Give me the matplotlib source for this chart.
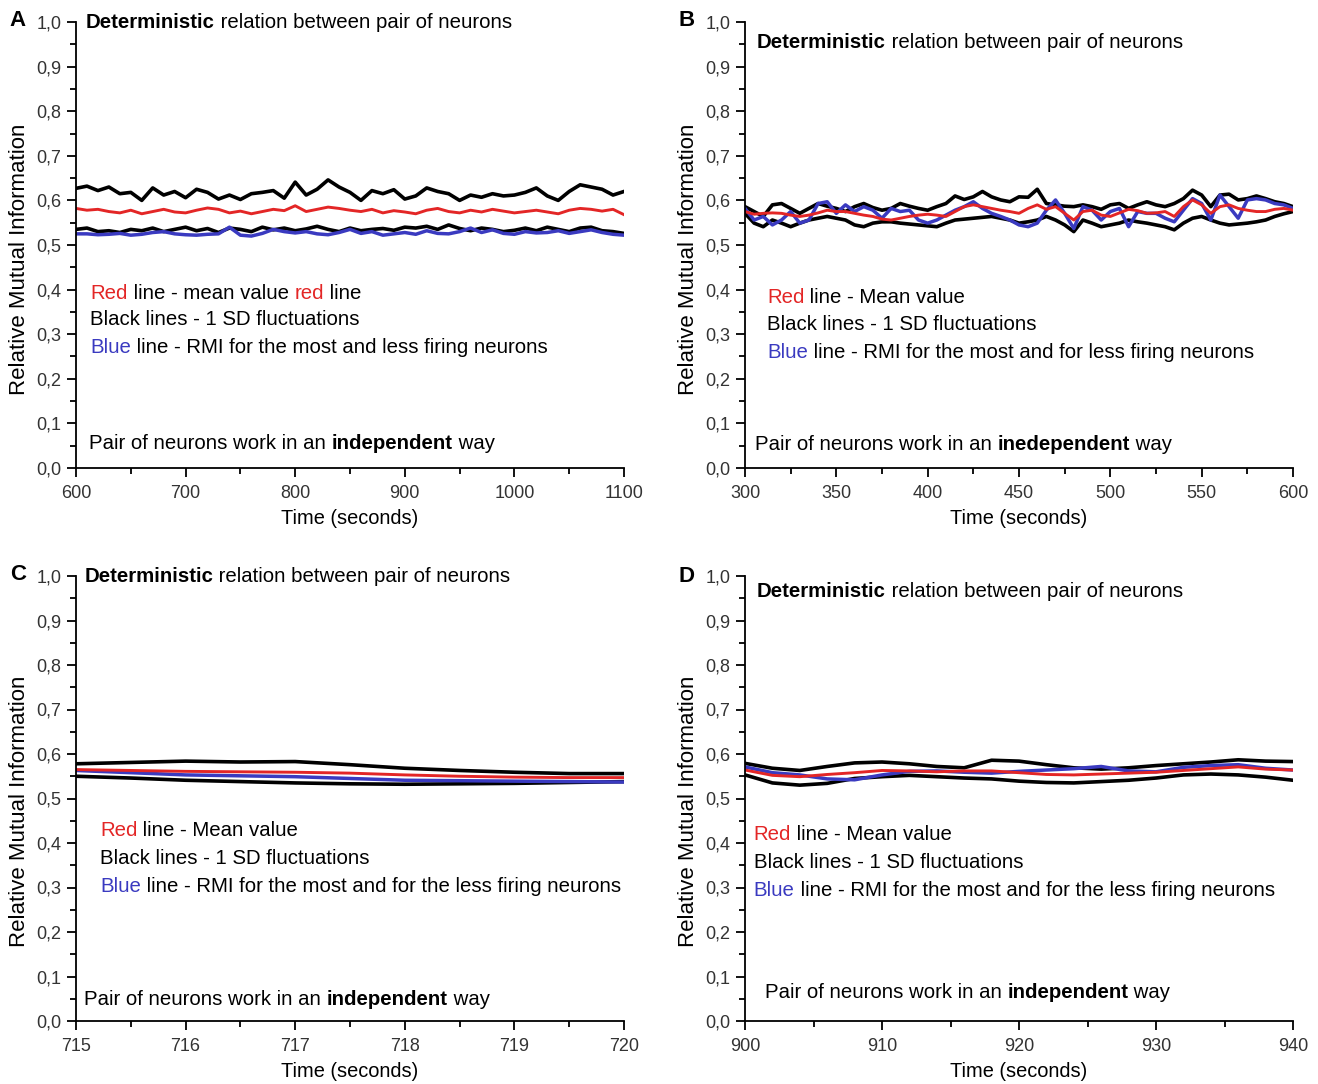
import numpy as np
import matplotlib
matplotlib.use("Agg")
import matplotlib.pyplot as plt
from matplotlib.ticker import MultipleLocator, FuncFormatter

plt.rcParams['font.family'] = ['Liberation Sans', 'DejaVu Sans']

RED = '#e32626'
BLUE = '#3a3ac0'

# ---- Panel A (600-1100 s, step 10 s)
t_a = np.arange(600, 1101, 10)
a_upper = [0.627, 0.632, 0.622, 0.630, 0.615, 0.618, 0.600, 0.628, 0.612, 0.620, 0.606, 0.625, 0.618,
           0.603, 0.612, 0.602, 0.615, 0.618, 0.622, 0.605, 0.641, 0.612, 0.625, 0.646, 0.630, 0.618,
           0.600, 0.622, 0.615, 0.624, 0.603, 0.610, 0.628, 0.620, 0.615, 0.600, 0.612, 0.607, 0.615,
           0.610, 0.612, 0.618, 0.628, 0.610, 0.600, 0.620, 0.635, 0.630, 0.625, 0.612, 0.620]
a_mean = [0.582, 0.578, 0.580, 0.575, 0.572, 0.578, 0.570, 0.575, 0.580, 0.574, 0.572, 0.578, 0.583,
          0.580, 0.572, 0.576, 0.570, 0.575, 0.580, 0.577, 0.588, 0.575, 0.580, 0.585, 0.582, 0.578,
          0.575, 0.580, 0.572, 0.577, 0.574, 0.570, 0.578, 0.582, 0.575, 0.572, 0.578, 0.574, 0.580,
          0.576, 0.572, 0.575, 0.578, 0.574, 0.570, 0.578, 0.582, 0.580, 0.576, 0.580, 0.568]
a_lower = [0.535, 0.538, 0.530, 0.532, 0.528, 0.535, 0.532, 0.538, 0.530, 0.535, 0.540, 0.532, 0.537,
           0.528, 0.538, 0.535, 0.530, 0.540, 0.534, 0.538, 0.532, 0.536, 0.542, 0.535, 0.530, 0.538,
           0.532, 0.535, 0.537, 0.533, 0.540, 0.538, 0.542, 0.535, 0.545, 0.537, 0.532, 0.538, 0.535,
           0.530, 0.533, 0.538, 0.532, 0.540, 0.535, 0.530, 0.538, 0.540, 0.532, 0.530, 0.526]
a_rmi = [0.525, 0.525, 0.523, 0.524, 0.526, 0.522, 0.524, 0.528, 0.530, 0.525, 0.523, 0.522, 0.524,
         0.525, 0.540, 0.522, 0.520, 0.526, 0.535, 0.530, 0.527, 0.530, 0.525, 0.523, 0.528, 0.535,
         0.526, 0.530, 0.522, 0.525, 0.528, 0.524, 0.532, 0.526, 0.525, 0.530, 0.538, 0.528, 0.534,
         0.526, 0.524, 0.530, 0.527, 0.528, 0.532, 0.526, 0.530, 0.534, 0.528, 0.524, 0.522]

# ---- Panel B (300-600 s, step 5 s)
t_b = np.arange(300, 601, 5)
b_upper = [0.586, 0.575, 0.564, 0.590, 0.593, 0.582, 0.571, 0.582, 0.593, 0.587, 0.582, 0.575, 0.586,
           0.593, 0.584, 0.578, 0.582, 0.593, 0.587, 0.582, 0.578, 0.586, 0.593, 0.610, 0.602, 0.608,
           0.620, 0.608, 0.601, 0.597, 0.608, 0.607, 0.625, 0.593, 0.590, 0.587, 0.586, 0.590, 0.586,
           0.580, 0.590, 0.593, 0.582, 0.590, 0.597, 0.590, 0.586, 0.593, 0.604, 0.623, 0.612, 0.586,
           0.612, 0.614, 0.601, 0.604, 0.610, 0.604, 0.597, 0.593, 0.586]
b_lower = [0.571, 0.549, 0.541, 0.556, 0.549, 0.541, 0.549, 0.556, 0.560, 0.564, 0.560, 0.556, 0.545,
           0.541, 0.549, 0.552, 0.552, 0.549, 0.547, 0.545, 0.543, 0.541, 0.549, 0.556, 0.558, 0.560,
           0.562, 0.564, 0.560, 0.556, 0.549, 0.552, 0.556, 0.564, 0.556, 0.545, 0.530, 0.556, 0.549,
           0.541, 0.545, 0.549, 0.556, 0.552, 0.549, 0.545, 0.541, 0.534, 0.549, 0.560, 0.564, 0.556,
           0.549, 0.545, 0.547, 0.549, 0.552, 0.556, 0.564, 0.570, 0.575]
b_mean = [0.575, 0.569, 0.571, 0.572, 0.571, 0.567, 0.564, 0.567, 0.572, 0.578, 0.575, 0.575, 0.571,
          0.567, 0.564, 0.558, 0.556, 0.560, 0.564, 0.567, 0.569, 0.567, 0.564, 0.575, 0.586, 0.590,
          0.586, 0.582, 0.578, 0.575, 0.571, 0.582, 0.590, 0.580, 0.586, 0.571, 0.556, 0.575, 0.578,
          0.567, 0.564, 0.572, 0.580, 0.577, 0.571, 0.572, 0.575, 0.564, 0.586, 0.601, 0.590, 0.571,
          0.586, 0.590, 0.582, 0.578, 0.575, 0.575, 0.580, 0.582, 0.578]
b_rmi = [0.582, 0.556, 0.564, 0.545, 0.556, 0.575, 0.549, 0.556, 0.593, 0.597, 0.571, 0.590, 0.575,
         0.586, 0.578, 0.560, 0.582, 0.575, 0.578, 0.556, 0.549, 0.556, 0.567, 0.578, 0.586, 0.597,
         0.582, 0.571, 0.564, 0.556, 0.545, 0.541, 0.549, 0.578, 0.601, 0.571, 0.537, 0.586, 0.578,
         0.556, 0.575, 0.582, 0.541, 0.575, 0.571, 0.571, 0.560, 0.552, 0.578, 0.604, 0.593, 0.556,
         0.612, 0.586, 0.560, 0.601, 0.604, 0.601, 0.593, 0.590, 0.582]

# ---- Panel C (715-720 s, step 0.5 s)
t_c = np.arange(715, 720.01, 0.5)
c_upper = [0.578, 0.581, 0.584, 0.582, 0.583, 0.576, 0.568, 0.563, 0.559, 0.556, 0.556]
c_mean = [0.565, 0.563, 0.561, 0.560, 0.559, 0.557, 0.553, 0.550, 0.548, 0.547, 0.547]
c_rmi = [0.563, 0.558, 0.553, 0.551, 0.549, 0.545, 0.541, 0.540, 0.539, 0.538, 0.537]
c_lower = [0.550, 0.546, 0.541, 0.538, 0.535, 0.533, 0.532, 0.533, 0.534, 0.536, 0.538]

# ---- Panel D (900-940 s, step 2 s)
t_d = np.arange(900, 941, 2)
d_upper = [0.579, 0.568, 0.563, 0.572, 0.580, 0.582, 0.578, 0.572, 0.569, 0.586, 0.584, 0.576, 0.569,
           0.566, 0.569, 0.574, 0.578, 0.582, 0.587, 0.584, 0.583]
d_lower = [0.553, 0.535, 0.530, 0.534, 0.545, 0.549, 0.552, 0.549, 0.546, 0.544, 0.539, 0.536, 0.535,
           0.538, 0.541, 0.546, 0.553, 0.555, 0.553, 0.548, 0.541]
d_mean = [0.564, 0.552, 0.549, 0.554, 0.558, 0.563, 0.562, 0.560, 0.562, 0.562, 0.558, 0.554, 0.553,
          0.555, 0.557, 0.559, 0.563, 0.567, 0.571, 0.566, 0.564]
d_rmi = [0.571, 0.558, 0.553, 0.544, 0.542, 0.553, 0.561, 0.562, 0.559, 0.557, 0.561, 0.564, 0.567,
         0.572, 0.562, 0.560, 0.570, 0.574, 0.576, 0.568, 0.564]

FS = 14.7


def rich_text(ax, x, y, parts, fs=FS):
    """Draw a line made of (text, color, weight) parts one after another."""
    prev = None
    for s, col, w in parts:
        if prev is None:
            prev = ax.text(x, y, s, color=col, fontweight=w, fontsize=fs,
                           transform=ax.transAxes, ha='left', va='center')
        else:
            prev = ax.annotate(s, xy=(1, 0), xycoords=prev, color=col, fontweight=w,
                               fontsize=fs, ha='left', va='bottom')
    return prev


def style_axes(ax, xlim, major, minor, ylab_x, ylab_y):
    ax.set_xlim(*xlim)
    ax.set_ylim(0, 1.0)
    ax.spines['top'].set_visible(False)
    ax.spines['right'].set_visible(False)
    ax.spines['left'].set_linewidth(1.3)
    ax.spines['bottom'].set_linewidth(1.3)
    ax.xaxis.set_major_locator(MultipleLocator(major))
    ax.xaxis.set_minor_locator(MultipleLocator(minor))
    ax.yaxis.set_major_locator(MultipleLocator(0.1))
    ax.yaxis.set_minor_locator(MultipleLocator(0.05))
    ax.yaxis.set_major_formatter(FuncFormatter(lambda v, p: f"{v:.1f}".replace('.', ',')))
    ax.tick_params(which='major', direction='out', length=6.5, width=1.3, labelsize=13,
                   labelcolor='#333333')
    ax.tick_params(axis='x', which='major', pad=6)
    ax.tick_params(axis='y', which='major', pad=4)
    ax.tick_params(which='minor', direction='out', length=4, width=1.3)
    ax.set_xlabel("Time (seconds)", fontsize=14.4, labelpad=5)
    ax.set_ylabel("Relative Mutual Information", fontsize=16)
    ax.yaxis.set_label_coords(ylab_x, ylab_y)


fig = plt.figure(figsize=(13.18, 10.84), dpi=100)
W, H = 1318, 1084
boxes = {
    'A': (76, 22, 624, 468),
    'B': (745, 22, 1293, 468),
    'C': (76, 576, 624, 1021),
    'D': (745, 576, 1293, 1021),
}
axes = {}
for k, (x0, y0, x1, y1) in boxes.items():
    axes[k] = fig.add_axes([x0 / W, 1 - y1 / H, (x1 - x0) / W, (y1 - y0) / H])

panels = [
    ('A', t_a, a_upper, a_lower, a_mean, a_rmi, (600, 1100), 100, 50, 0.469),
    ('B', t_b, b_upper, b_lower, b_mean, b_rmi, (300, 600), 50, 25, 0.469),
    ('C', t_c, c_upper, c_lower, c_mean, c_rmi, (715, 720), 1, 0.5, 0.472),
    ('D', t_d, d_upper, d_lower, d_mean, d_rmi, (900, 940), 10, 5, 0.472),
]
for k, t, up, lo, mean, rmi, xlim, maj, mnr, ly in panels:
    ax = axes[k]
    ax.plot(t, up, color='black', lw=2.6)
    ax.plot(t, lo, color='black', lw=2.6)
    ax.plot(t, rmi, color=BLUE, lw=2.5)
    ax.plot(t, mean, color=RED, lw=2.1)
    style_axes(ax, xlim, maj, mnr, -0.084, ly)

# title lines
title = [("Deterministic", 'black', 'bold'), (" relation between pair of neurons", 'black', 'normal')]
rich_text(axes['A'], 0.018, 0.998, title)
rich_text(axes['B'], 0.022, 0.953, title)
rich_text(axes['C'], 0.015, 0.998, title)
rich_text(axes['D'], 0.022, 0.966, title)

# legend-like text
leg_a = [
    [("Red", RED, 'normal'), (" line - mean value ", 'black', 'normal'), ("red", RED, 'normal'), (" line", 'black', 'normal')],
    [("Black lines - 1 SD fluctuations", 'black', 'normal')],
    [("Blue", BLUE, 'normal'), (" line - RMI for the most and less firing neurons", 'black', 'normal')],
]
leg_b = [
    [("Red", RED, 'normal'), (" line - Mean value", 'black', 'normal')],
    [("Black lines - 1 SD fluctuations", 'black', 'normal')],
    [("Blue", BLUE, 'normal'), (" line - RMI for the most and for less firing neurons", 'black', 'normal')],
]
leg_cd = [
    [("Red", RED, 'normal'), (" line - Mean value", 'black', 'normal')],
    [("Black lines - 1 SD fluctuations", 'black', 'normal')],
    [("Blue", BLUE, 'normal'), (" line - RMI for the most and for the less firing neurons", 'black', 'normal')],
]
for k, lines, x, ys in [('A', leg_a, 0.026, (0.392, 0.332, 0.271)),
                        ('B', leg_b, 0.040, (0.383, 0.321, 0.260)),
                        ('C', leg_cd, 0.044, (0.427, 0.366, 0.303)),
                        ('D', leg_cd, 0.016, (0.418, 0.357, 0.294))]:
    for parts, y in zip(lines, ys):
        rich_text(axes[k], x, y, parts)

bottom = lambda word: [("Pair of neurons work in an ", 'black', 'normal'), (word, 'black', 'bold'),
                       (" way", 'black', 'normal')]
rich_text(axes['A'], 0.024, 0.054, bottom("independent"))
rich_text(axes['B'], 0.018, 0.052, bottom("inedependent"))
rich_text(axes['C'], 0.015, 0.049, bottom("independent"))
rich_text(axes['D'], 0.036, 0.063, bottom("independent"))

# panel letters
for k, (x, y) in {'A': (18, 20), 'B': (687, 20), 'C': (18, 575), 'D': (687, 577)}.items():
    fig.text(x / W, 1 - y / H, k, fontsize=16, fontweight='bold', ha='center', va='center')

fig.savefig("out.png", dpi=100)
